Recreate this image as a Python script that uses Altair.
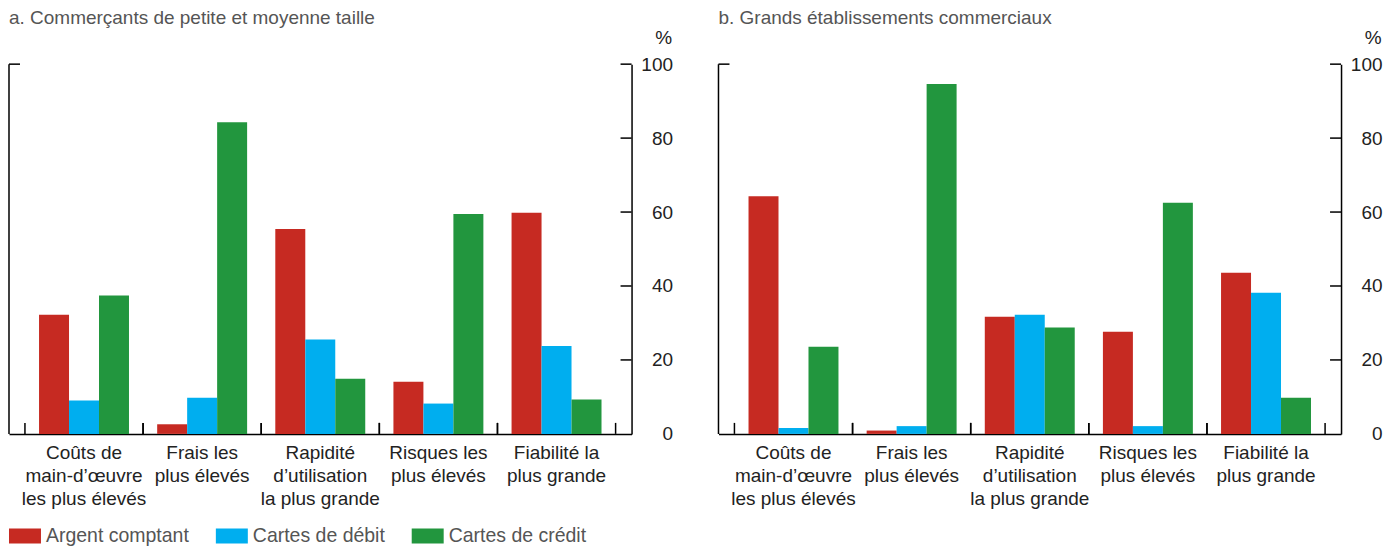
import altair as alt
import pandas as pd

categories = [
    "Coûts de|main-d’œuvre|les plus élevés",
    "Frais les|plus élevés",
    "Rapidité|d’utilisation|la plus grande",
    "Risques les|plus élevés",
    "Fiabilité la|plus grande",
]
series = ["Argent comptant", "Cartes de débit", "Cartes de crédit"]
colors = ["#c62a22", "#00aeef", "#22963e"]

a_cash = [32.2, 2.6, 55.4, 14.1, 59.8]
a_debit = [9.0, 9.8, 25.5, 8.2, 23.8]
a_credit = [37.4, 84.3, 14.9, 59.5, 9.3]

b_cash = [64.3, 0.9, 31.7, 27.6, 43.6]
b_debit = [1.6, 2.1, 32.2, 2.1, 38.2]
b_credit = [23.6, 94.6, 28.8, 62.5, 9.8]

y_ticks = [0, 20, 40, 60, 80, 100]

title_a = "a. Commerçants de petite et moyenne taille"
title_b = "b. Grands établissements commerciaux"

W, H = 623, 370
FONT = "Liberation Sans"
FS = 19
TICK = 11
LW = 1.5


def make_df(cash, debit, credit):
    rows = []
    for i, c in enumerate(categories):
        for s, vals in zip(series, [cash, debit, credit]):
            rows.append({"cat": c, "series": s, "value": vals[i]})
    return pd.DataFrame(rows)


def panel(title, cash, debit, credit, show_legend):
    df = make_df(cash, debit, credit)
    xscale = alt.Scale(domain=categories, paddingInner=0, paddingOuter=0.135)
    yscale = alt.Scale(domain=[0, 100], nice=False)
    if show_legend:
        legend = alt.Legend(
            orient="none", legendX=0, legendY=456, direction="horizontal",
            title=None, symbolType="M-1,-0.47H1V0.47H-1Z", symbolSize=1024,
            symbolStrokeWidth=0, symbolOpacity=1, labelFont=FONT, labelFontSize=19.5,
            labelColor="#555555", labelOffset=5, columnPadding=26,
        )
    else:
        legend = None
    xaxis = alt.Axis(labelExpr="split(datum.label, '|')", labelAngle=0,
                     ticks=False, tickSize=0, domainColor="black",
                     domainWidth=LW, labelFont=FONT, labelFontSize=FS,
                     labelColor="#222222", labelLineHeight=23,
                     labelPadding=10, labelBaseline="top",
                     labelOverlap=False, labelLimit=300, title=None)
    yaxis = alt.Axis(orient="right", values=y_ticks, title="%", titleAngle=0,
                     titleAlign="right", titleBaseline="middle", titleX=40,
                     titleY=-27, titleFont=FONT, titleFontSize=FS,
                     titleFontWeight="normal", titleColor="#222222",
                     ticks=False, tickSize=0, labelPadding=41,
                     labelAlign="right", labelBaseline="middle",
                     labelFont=FONT, labelFontSize=FS, labelColor="#222222",
                     grid=False, domainColor="black", domainWidth=LW)
    bars = alt.Chart(df).mark_bar(strokeWidth=0).encode(
        x=alt.X("cat:N", sort=categories, scale=xscale, axis=xaxis),
        xOffset=alt.XOffset("series:N", sort=series,
                            scale=alt.Scale(domain=series, paddingInner=0, paddingOuter=0.47)),
        y=alt.Y("value:Q", scale=yscale, axis=yaxis),
        color=alt.Color("series:N", sort=series,
                        scale=alt.Scale(domain=series, range=colors), legend=legend),
    )
    cat_df = pd.DataFrame({"cat": categories})
    xt0 = alt.Chart(cat_df).mark_rule(color="black", strokeWidth=LW).encode(
        x=alt.X("cat:N", sort=categories, scale=xscale, bandPosition=0, axis=xaxis),
        y=alt.value(H - TICK), y2=alt.value(H),
    )
    xt1 = alt.Chart(cat_df).mark_rule(color="black", strokeWidth=LW).encode(
        x=alt.X("cat:N", sort=categories, scale=xscale, bandPosition=1, axis=xaxis),
        y=alt.value(H - TICK), y2=alt.value(H),
    )
    yt = alt.Chart(pd.DataFrame({"value": y_ticks[1:]})).mark_rule(color="black", strokeWidth=LW).encode(
        y=alt.Y("value:Q", scale=yscale, axis=yaxis),
        x=alt.value(W - TICK), x2=alt.value(W),
    )
    left_line = alt.Chart(pd.DataFrame({"value": [0]})).mark_rule(color="black", strokeWidth=LW).encode(
        x=alt.value(0), y=alt.value(0), y2=alt.value(H),
    )
    left_tick = alt.Chart(pd.DataFrame({"value": [100]})).mark_rule(color="black", strokeWidth=LW).encode(
        y=alt.Y("value:Q", scale=yscale, axis=yaxis),
        x=alt.value(0), x2=alt.value(TICK),
    )
    return alt.layer(bars, xt0, xt1, yt, left_line, left_tick).properties(
        width=W, height=H,
        title=alt.TitleParams(text=title, anchor="start", frame="group", font=FONT,
                              fontSize=FS, fontWeight="normal", color="#555555", offset=0),
    )


chart = alt.hconcat(
    panel(title_a, a_cash, a_debit, a_credit, True),
    panel(title_b, b_cash, b_debit, b_credit, False),
    spacing=45,
).resolve_scale(color="shared").properties(
    padding={"left": 0, "top": 1, "right": 5, "bottom": 0}
).configure_view(strokeWidth=0)

chart.save("out.html", embed_options={"renderer": "svg", "actions": False})
